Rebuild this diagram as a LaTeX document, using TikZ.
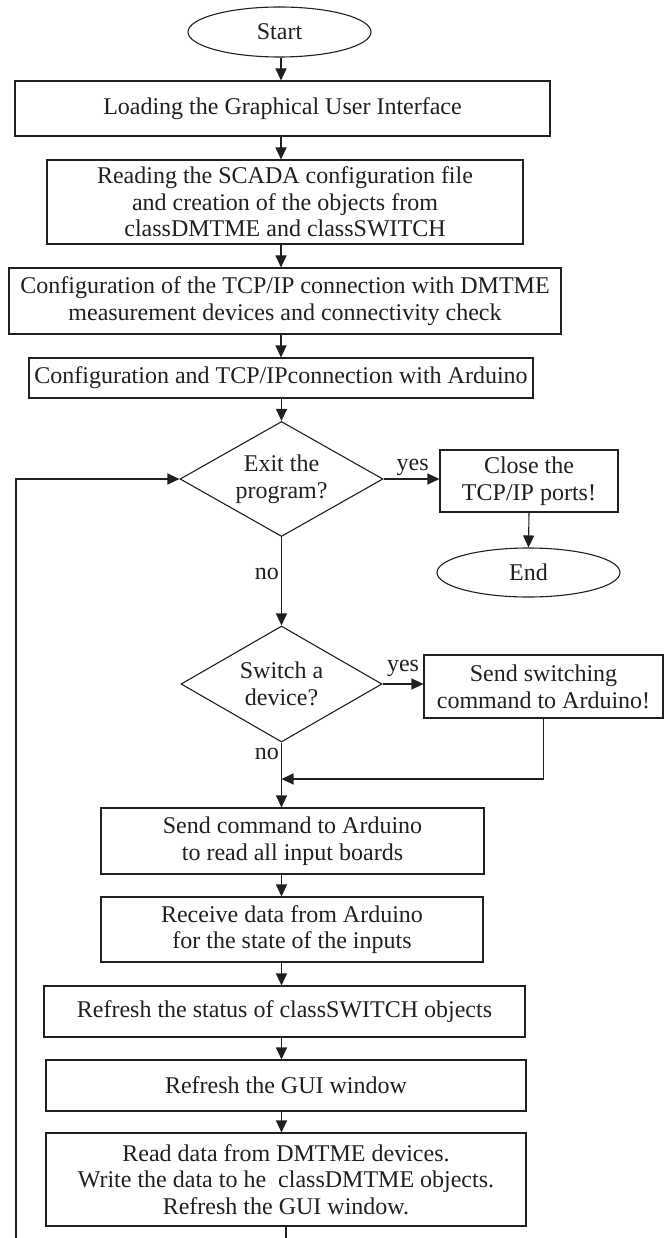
\documentclass[tikz,border=0pt]{standalone}
\usepackage{fontspec}
\setmainfont{Liberation Serif}
\usetikzlibrary{shapes.geometric,arrows.meta}
\definecolor{ink}{RGB}{35,31,32}
\begin{document}
\begin{tikzpicture}[x=1pt,y=-1pt,
  font=\fontsize{24}{26.7}\selectfont,
  every node/.style={text=ink},
  box/.style={draw=ink,line width=1.1pt,rectangle,inner sep=0pt,align=center},
  oval/.style={draw=ink,line width=1.1pt,ellipse,inner sep=0pt},
  decision/.style={draw=ink,line width=1.1pt,diamond,inner sep=0pt,align=center,shape aspect=1.75},
  arr/.style={draw=ink,line width=1.1pt,-{Triangle[length=12pt,width=11pt]}},
  lbl/.style={inner sep=2pt}
]
\useasboundingbox (0,0) rectangle (666,1238);
\fill[white] (0,0) rectangle (666,1238);

\node[oval,minimum width=183pt,minimum height=50pt] (start) at (279.5,32) {Start};
\node[box,minimum width=535pt,minimum height=55pt] (load) at (282.5,108.5) {Loading the Graphical User Interface};
\node[box,minimum width=476pt,minimum height=84pt] (read) at (285,202) {Reading the SCADA configuration file\\and creation of the objects from\\classDMTME and classSWITCH};
\node[box,minimum width=552pt,minimum height=66pt] (cfgtcp) at (285,301) {Configuration of the TCP/IP connection with DMTME\\measurement devices and connectivity check};
\node[box,minimum width=504pt,minimum height=40pt] (cfgard) at (281,378) {Configuration and TCP/IPconnection with Arduino};
\node[decision,minimum width=203pt,minimum height=115pt] (exit) at (281.5,479) {Exit the\\program?};
\node[box,minimum width=178pt,minimum height=62pt] (close) at (529,481) {Close the\\TCP/IP ports!};
\node[oval,minimum width=183pt,minimum height=49pt] (end) at (528.5,572.5) {End};
\node[decision,minimum width=201pt,minimum height=116pt] (switch) at (281.5,684) {Switch a\\device?};
\node[box,minimum width=239pt,minimum height=63pt] (sendsw) at (543.5,686.5) {Send switching\\command to Arduino!};
\node[box,minimum width=383pt,minimum height=66pt] (sendcmd) at (292.5,841) {Send command to Arduino\\to read all input boards};
\node[box,minimum width=382pt,minimum height=65pt] (receive) at (292,929.5) {Receive data from Arduino\\for the state of the inputs};
\node[box,minimum width=481pt,minimum height=51pt] (refstat) at (284.5,1011.5) {Refresh the status of classSWITCH objects};
\node[box,minimum width=480pt,minimum height=51pt] (refgui) at (286,1085.5) {Refresh the GUI window};
\node[box,minimum width=480pt,minimum height=93pt] (readdata) at (286,1179.5) {Read data from DMTME devices.\\Write the data to he\ \ classDMTME objects.\\Refresh the GUI window.};

\coordinate (col) at (281,0);
\coordinate (m) at (0,779);
\coordinate (bl) at (16,1280);

\draw[arr] (start.south -| col) -- (load.north -| col);
\draw[arr] (load.south -| col) -- (read.north -| col);
\draw[arr] (read.south -| col) -- (cfgtcp.north -| col);
\draw[arr] (cfgtcp.south -| col) -- (cfgard.north -| col);
\draw[arr] (cfgard.south -| exit.north) -- (exit.north);
\draw[arr] (exit.east) -- node[lbl,pos=0.52,above=1pt]{yes} (exit.east -| close.west);
\draw[arr] (close.south) -- (end.north);
\draw[arr] (exit.south) -- node[lbl,pos=0.42,left]{no} (switch.north);
\draw[arr] (switch.east) -- node[lbl,pos=0.5,above=5pt]{yes} (switch.east -| sendsw.west);
\draw[arr] (switch.south) -- node[lbl,pos=0.17,left]{no} (switch.south |- sendcmd.north);
\draw[arr] (sendsw.south) |- (switch.south |- m);
\draw[arr] (sendcmd.south -| switch.south) -- (receive.north -| switch.south);
\draw[arr] (receive.south -| switch.south) -- (refstat.north -| switch.south);
\draw[arr] (refstat.south -| switch.south) -- (refgui.north -| switch.south);
\draw[arr] (refgui.south -| switch.south) -- (readdata.north -| switch.south);
\draw[arr] (readdata.south) |- (bl) |- (exit.west);
\end{tikzpicture}
\end{document}
